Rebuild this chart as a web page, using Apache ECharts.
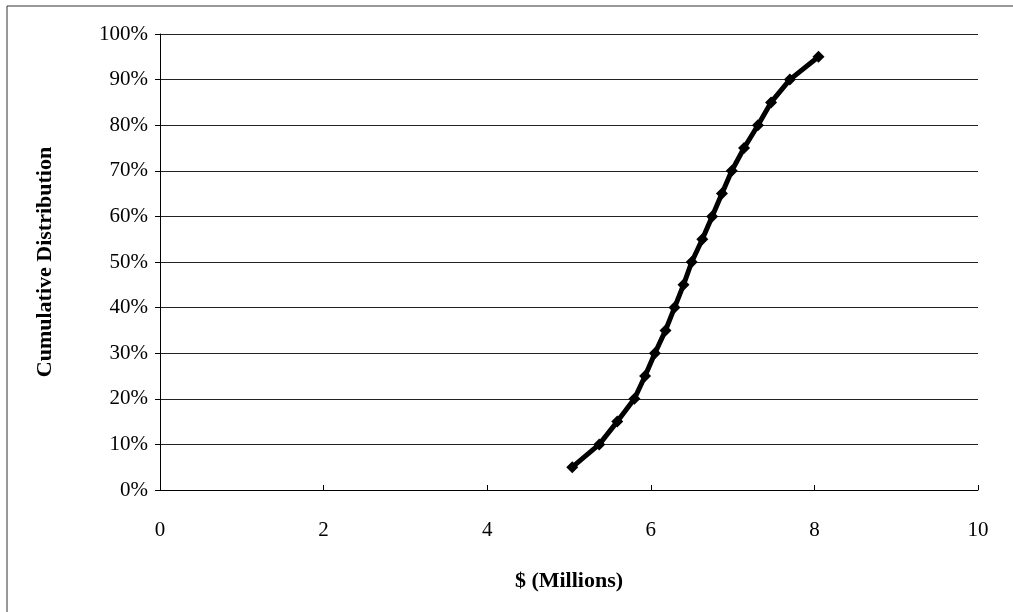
<!DOCTYPE html>
<html>
<head>
<meta charset="utf-8">
<script src="https://cdn.jsdelivr.net/npm/echarts@6/dist/echarts.min.js"></script>
<style>html,body{margin:0;padding:0;background:#fff;}#c{width:1013px;height:612px;}</style>
</head>
<body>
<div id="c"></div>
<script>
var xValues = [5.04, 5.37, 5.59, 5.80, 5.93, 6.05, 6.18, 6.29, 6.40, 6.50, 6.63, 6.75, 6.87, 6.99, 7.14, 7.31, 7.47, 7.70, 8.05];
var yValues = [0.05, 0.10, 0.15, 0.20, 0.25, 0.30, 0.35, 0.40, 0.45, 0.50, 0.55, 0.60, 0.65, 0.70, 0.75, 0.80, 0.85, 0.90, 0.95];
var xTitle = '$ (Millions)';
var yTitle = 'Cumulative Distribution';

var pts = xValues.map(function (x, i) { return [x, yValues[i]]; });
var font = 'Liberation Serif';
var chart = echarts.init(document.getElementById('c'));
chart.setOption({
  animation: false,
  backgroundColor: '#fff',
  grid: { left: 160, right: 35, top: 34, bottom: 122 },
  xAxis: {
    type: 'value', min: 0, max: 10, interval: 2,
    name: xTitle, nameLocation: 'middle', nameGap: 80,
    nameTextStyle: { fontFamily: font, fontSize: 22, fontWeight: 'bold', color: '#000' },
    axisLine: { show: true, onZero: false, lineStyle: { color: '#000', width: 1 } },
    axisTick: { show: true, inside: true, length: 5, lineStyle: { color: '#000' } },
    axisLabel: { fontFamily: font, fontSize: 21, color: '#000', margin: 30 },
    splitLine: { show: false }
  },
  yAxis: {
    type: 'value', min: 0, max: 1, interval: 0.1,
    name: yTitle, nameLocation: 'middle', nameGap: 104, nameRotate: 90,
    nameTextStyle: { fontFamily: font, fontSize: 22, fontWeight: 'bold', color: '#000' },
    axisLine: { show: true, lineStyle: { color: '#000', width: 1 } },
    axisTick: { show: true, length: 5, lineStyle: { color: '#000' } },
    axisLabel: { fontFamily: font, fontSize: 21, color: '#000', margin: 12,
      formatter: function (v) { return Math.round(v * 100) + '%'; } },
    splitLine: { show: true, lineStyle: { color: '#222', width: 1 } }
  },
  series: [{
    type: 'line', data: pts,
    lineStyle: { color: '#000', width: 5 },
    itemStyle: { color: '#000' },
    symbol: 'diamond', symbolSize: 12
  }],
  graphic: [
    { type: 'line', shape: { x1: 7, y1: 6, x2: 1013, y2: 6 }, style: { stroke: '#333', lineWidth: 1 } },
    { type: 'line', shape: { x1: 7, y1: 6, x2: 7, y2: 612 }, style: { stroke: '#333', lineWidth: 1 } }
  ]
});
</script>
</body>
</html>
